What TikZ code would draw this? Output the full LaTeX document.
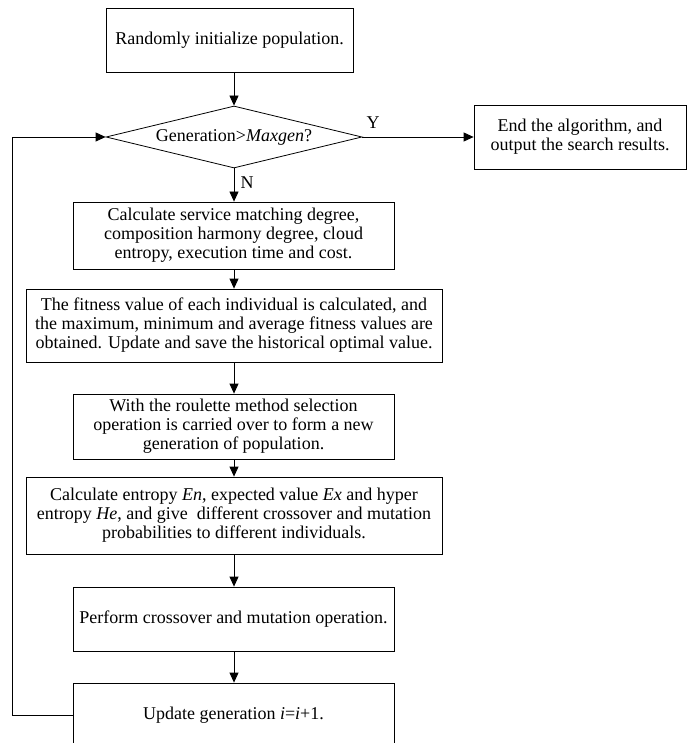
\documentclass[tikz,border=0pt]{standalone}
\usepackage{fontspec}
\setmainfont{Liberation Serif}
\usetikzlibrary{shapes.geometric,arrows.meta}
\begin{document}
\begin{tikzpicture}[x=1pt,y=-1pt,
  box/.style={draw, line width=0.8pt, align=center, inner sep=0pt, font=\fontsize{18}{19}\selectfont},
  dec/.style={draw, shape=diamond, shape aspect=4, line width=0.8pt, inner sep=0pt, font=\fontsize{18}{19}\selectfont, minimum width=256pt, minimum height=62pt},
  lab/.style={font=\fontsize{18}{19}\selectfont, inner sep=0pt},
  arr/.style={-{Triangle[length=10pt,width=9pt]}, line width=0.8pt},
  ln/.style={line width=0.8pt}]
\useasboundingbox (0,0) rectangle (689,743);
\node[box, minimum width=247pt, minimum height=64pt] (b1) at (229.5,40) {Randomly initialize population.};
\node[dec] (d) at (234,137) {Generation>\textit{Maxgen}?};
\node[box, minimum width=212pt, minimum height=64pt] (e) at (580,137) {End the algorithm, and\\output the search results.};
\node[box, minimum width=321pt, minimum height=67pt] (b3) at (233.5,235.5) {Calculate service matching degree,\\composition harmony degree, cloud\\entropy, execution time and cost.};
\node[box, minimum width=416pt, minimum height=73pt] (b4) at (234,325.5) {The fitness value of each individual is calculated, and\\the maximum, minimum and average fitness values are\\obtained. Update and save the historical optimal value.};
\node[box, minimum width=321pt, minimum height=65pt] (b5) at (233.5,426.5) {With the roulette method selection\\operation is carried over to form a new\\generation of population.};
\node[box, minimum width=416pt, minimum height=77pt] (b6) at (234,515.5) {Calculate entropy \textit{En}, expected value \textit{Ex} and hyper\\entropy \textit{He}, and give\ \ different crossover and mutation\\probabilities to different individuals.};
\node[box, minimum width=321pt, minimum height=64pt] (b7) at (233.5,619) {Perform crossover and mutation operation.};
\node[box, minimum width=321pt, minimum height=64pt] (b8) at (233.5,715) {Update generation \textit{i}=\textit{i}+1.};
\node[lab] (ly) at (373,123) {Y};
\node[lab] (ln) at (247,183) {N};
\coordinate (c1) at (12,715);
\coordinate (c2) at (12,137);
\draw[arr] (d.north |- b1.south) -- (d.north);
\draw[arr] (d.east) -- (e.west);
\draw[arr] (d.south) -- (d.south |- b3.north);
\draw[arr] (d.south |- b3.south) -- (d.south |- b4.north);
\draw[arr] (d.south |- b4.south) -- (d.south |- b5.north);
\draw[arr] (d.south |- b5.south) -- (d.south |- b6.north);
\draw[arr] (d.south |- b6.south) -- (d.south |- b7.north);
\draw[arr] (d.south |- b7.south) -- (d.south |- b8.north);
\draw[arr] (b8.west) -- (c1) -- (c2) -- (d.west);
\end{tikzpicture}
\end{document}
